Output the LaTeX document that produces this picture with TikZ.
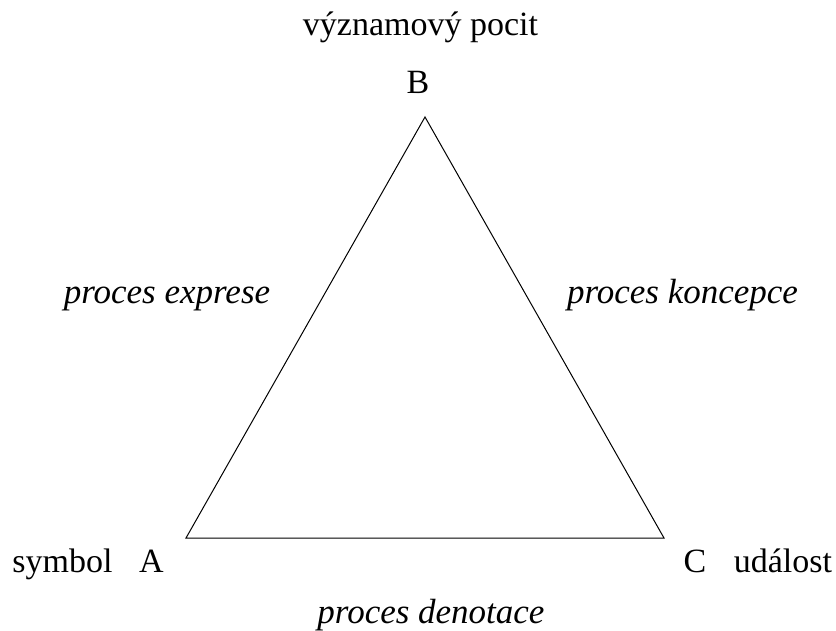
\documentclass[tikz,border=0pt]{standalone}
\usepackage{fontspec}
\setmainfont{Liberation Serif}
\usepackage{xcolor}

\begin{document}
\begin{tikzpicture}[
    x=1pt, y=-1pt,
    word/.style={inner sep=0pt, anchor=base, font=\fontsize{34}{40}\selectfont},
    process/.style={word, font=\fontsize{35}{40}\selectfont\itshape},
    side/.style={draw=black, line width=1pt, line join=miter}
]
\useasboundingbox (0,0) rectangle (836,630);
\coordinate (A) at (186,538);
\coordinate (B) at (425,117);
\coordinate (C) at (664,538);
\draw[side] (A) -- (B) -- (C) -- cycle;

\node[word] (bname) at (420.5,35) {významový pocit};
\node[word] (b) at (418,93) {B};
\node[word] (aname) at (62.5,572) {symbol};
\node[word] (a) at (151.5,572) {A};
\node[word] (c) at (695,572) {C};
\node[word] (cname) at (783,572) {událost};
\node[process] (ab) at (167,303) {proces exprese};
\node[process] (bc) at (682.5,303) {proces koncepce};
\node[process] (ac) at (431,623) {proces denotace};
\end{tikzpicture}
\end{document}
